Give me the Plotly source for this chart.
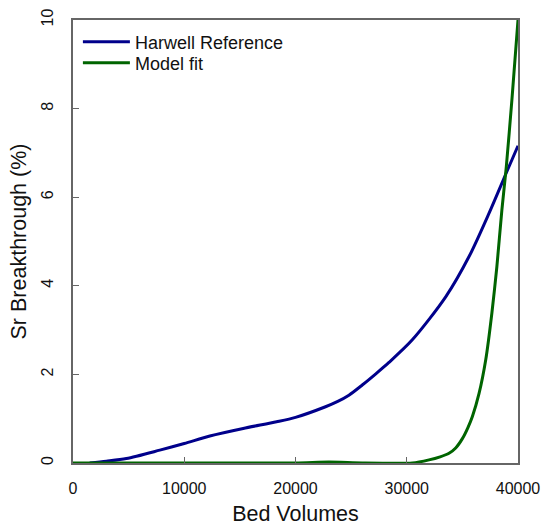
import plotly.graph_objects as go

# Harwell Reference curve (Bed Volumes, Sr Breakthrough %)
harwell_bv = [1500, 3000, 4800, 7800, 10000, 12300, 15300, 18300, 20000, 22700,
              23800, 24800, 26000, 27300, 28400, 30500, 33500, 35600, 37400, 39000, 40000]
harwell_sr = [0.0, 0.04, 0.10, 0.29, 0.44, 0.61, 0.78, 0.93, 1.03, 1.27,
              1.39, 1.53, 1.76, 2.03, 2.27, 2.78, 3.75, 4.66, 5.64, 6.58, 7.16]

# Model fit curve
model_bv = [0, 20000, 23000, 26000, 30500, 32000, 33000, 33800, 34400, 35000, 35500, 35900,
            36500, 37100, 37650, 38100, 38550, 38950, 39450, 40000]
model_sr = [0.0, 0.0, 0.02, 0.0, 0.0, 0.07, 0.14, 0.22, 0.34, 0.55, 0.80, 1.05,
            1.57, 2.33, 3.38, 4.43, 5.71, 6.69, 8.19, 10.0]

x_ticks = [0, 10000, 20000, 30000, 40000]
y_ticks = [0, 2, 4, 6, 8, 10]

font_family = "Liberation Sans, Arial, sans-serif"

fig = go.Figure()
fig.add_trace(go.Scatter(x=harwell_bv, y=harwell_sr, mode="lines", name="Harwell Reference",
                         legend="legend",
                         line=dict(color="#00008B", width=3, shape="spline", smoothing=0.8)))
fig.add_trace(go.Scatter(x=model_bv, y=model_sr, mode="lines", name="Model fit",
                         legend="legend2",
                         line=dict(color="#006400", width=3, shape="spline", smoothing=0.6)))

axis_common = dict(showgrid=False, zeroline=False, showline=True, linecolor="#666666",
                   linewidth=1.5, mirror=True, ticks="inside", ticklen=6, tickwidth=1,
                   tickcolor="#666666", automargin=False,
                   tickfont=dict(size=16, color="#111111", family=font_family))

fig.update_xaxes(range=[0, 40000], tickvals=x_ticks, ticktext=[str(v) for v in x_ticks],
                 title=dict(text="Bed Volumes", font=dict(size=21.5, color="#111111", family=font_family),
                            standoff=10),
                 ticklabelstandoff=10, **axis_common)
fig.update_yaxes(range=[0, 10], tickvals=y_ticks, ticktext=[str(v) for v in y_ticks],
                 tickangle=-90,
                 title=dict(text="Sr Breakthrough (%)", font=dict(size=21.5, color="#111111", family=font_family),
                            standoff=6),
                 ticklabelstandoff=12, **axis_common)

leg_common = dict(x=0.011, xanchor="left", yanchor="middle", bgcolor="rgba(0,0,0,0)",
                  font=dict(size=18, family=font_family, color="#111111"),
                  itemwidth=47, tracegroupgap=0)

fig.update_layout(
    width=544, height=526,
    margin=dict(l=73, r=26, t=20, b=63),
    plot_bgcolor="white", paper_bgcolor="white",
    font=dict(family=font_family, color="#111111"),
    showlegend=True,
    legend=dict(y=0.950, **leg_common),
    legend2=dict(y=0.903, **leg_common),
)

fig.write_html("out.html")
